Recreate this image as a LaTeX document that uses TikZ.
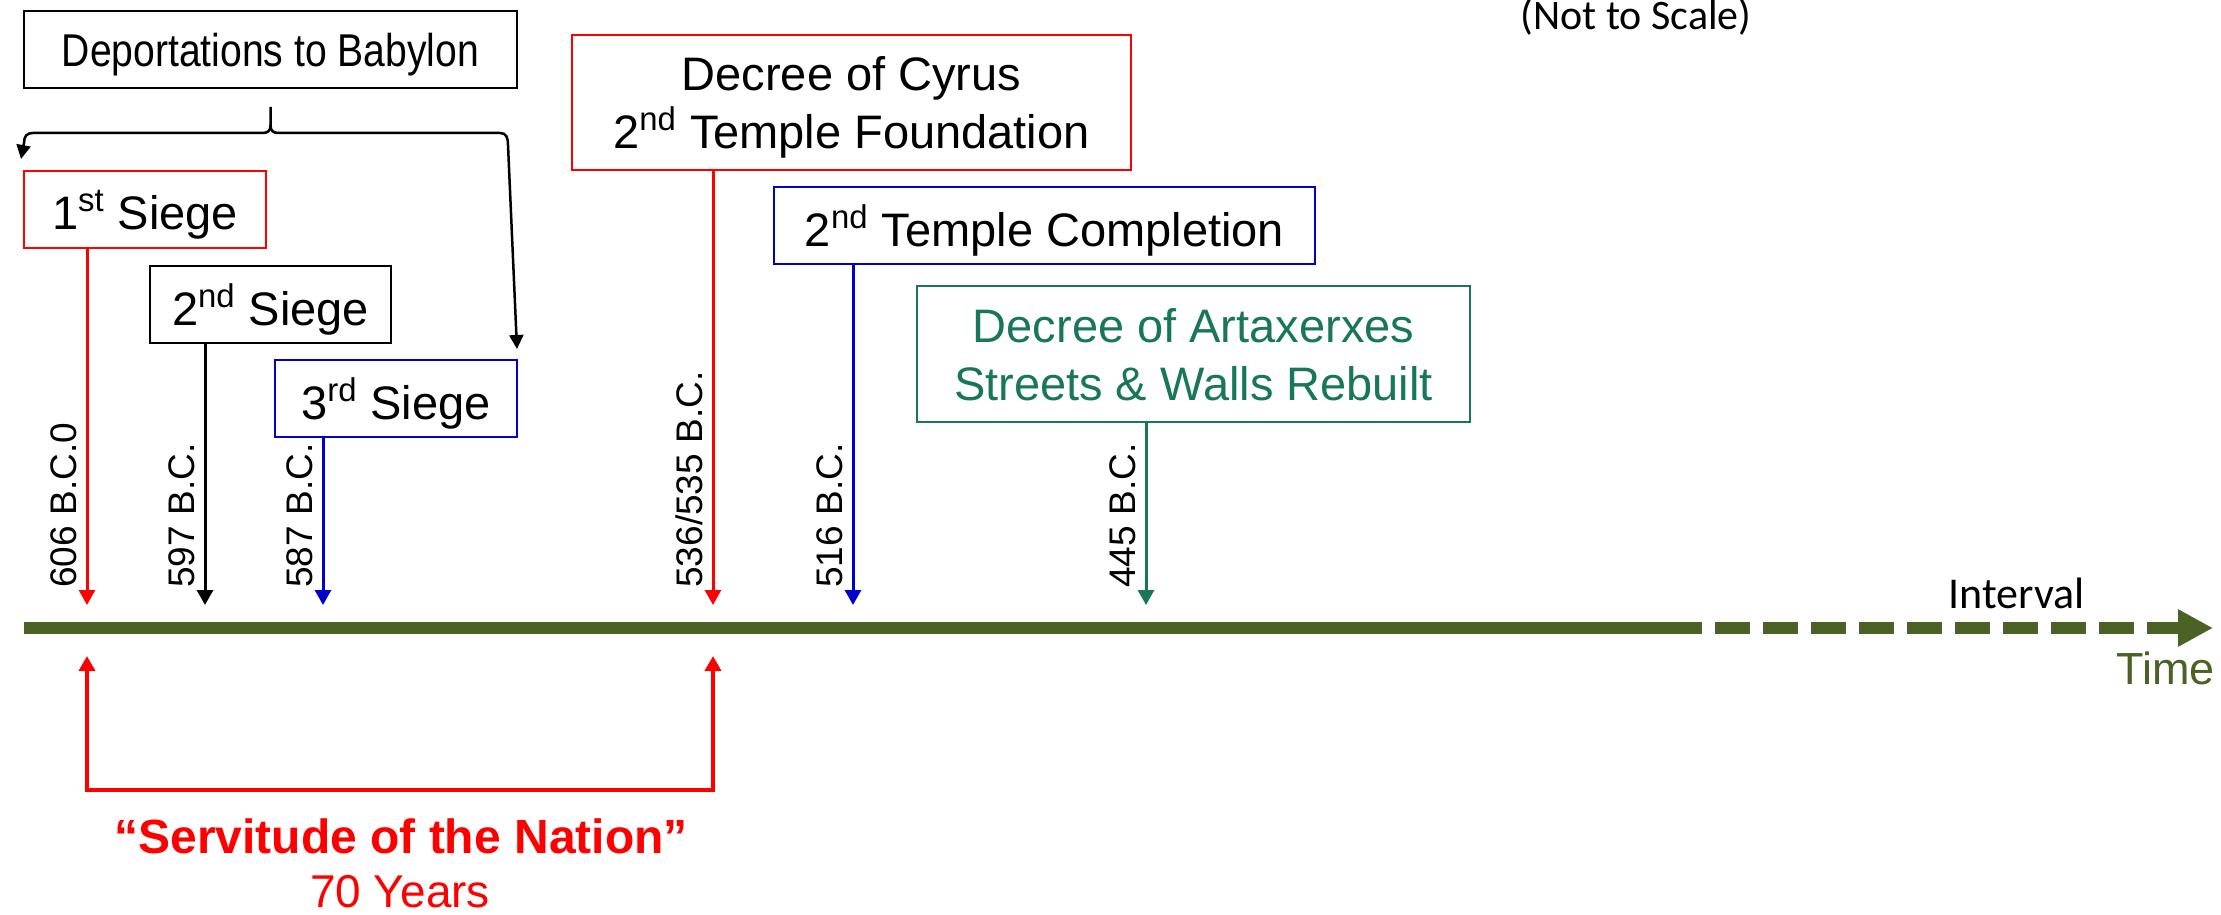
\documentclass[tikz,border=0pt]{standalone}
\usepackage{fontspec}
\setmainfont{Liberation Sans}
\newfontfamily\narrowfont{Liberation Sans}[FakeStretch=0.85]
\newfontfamily\calibrifont{Carlito}
\usetikzlibrary{arrows.meta,calc}

\definecolor{timeolive}{RGB}{74,98,36}
\definecolor{artgreen}{RGB}{24,119,90}
\definecolor{siegeblue}{RGB}{0,0,205}

\tikzset{
  event/.style={draw, line width=1pt, inner sep=0pt, align=center, text depth=0pt,
    font=\fontsize{23.5}{29}\selectfont},
  datearrow/.style={line width=1.5pt, -{Triangle[length=7.5pt,width=8pt]}},
  datelabel/.style={rotate=90, anchor=base west, inner sep=0pt,
    font=\fontsize{18.5}{22}\selectfont},
  bracearrow/.style={line width=1.25pt, -{Triangle[length=7pt,width=7pt]}},
}

\begin{document}
\begin{tikzpicture}[x=0.5pt,y=0.5pt,yscale=-1,xscale=1]
    \useasboundingbox (0,0) rectangle (2221,915);

    % event boxes
    \node[event, minimum width=246.5pt, minimum height=38.5pt,
      font=\narrowfont\fontsize{23}{28}\selectfont] (dep) at (270.5,49.5) {Deportations to Babylon};
    \node[event, draw=red, minimum width=121pt, minimum height=38.5pt] (s1) at (145,209.5) {1\textsuperscript{st} Siege};
    \node[event, minimum width=120.5pt, minimum height=38.5pt] (s2) at (270.5,304.5) {2\textsuperscript{nd} Siege};
    \node[event, draw=siegeblue, minimum width=121pt, minimum height=38.5pt] (s3) at (396,398.5) {3\textsuperscript{rd} Siege};
    \node[event, draw=red, minimum width=279.5pt, minimum height=67.5pt] (cyrus) at (851.5,102.5) {Decree of Cyrus\\2\textsuperscript{nd} Temple Foundation};
    \node[event, draw=siegeblue, minimum width=270.5pt, minimum height=38.5pt] (compl) at (1044.5,225.5) {2\textsuperscript{nd} Temple Completion};
    \node[event, draw=artgreen, text=artgreen, minimum width=276.5pt, minimum height=68pt] (artax) at (1193.5,354) {Decree of Artaxerxes\\Streets \& Walls Rebuilt};

    % brace from the deportations box
    \coordinate (bt) at ($(dep.south)+(0,18)$);
    \coordinate (bl) at ($(s1.north west)+(-2,-11)$);
    \coordinate (br) at ($(s3.north east)+(-1,-10)$);
    \draw[bracearrow] (bt) -- (270.5,125) .. controls (270.5,131) and (268,133) .. (262,133) -- (33,133) .. controls (27,133) and (24,136) .. (24,143) -- (bl);
    \draw[bracearrow] (270.5,125) .. controls (270.5,131) and (273,133) .. (279,133) -- (500,133) .. controls (506,133) and (508,137) .. (508,145) -- (br);

    % arrow tips on the time line
    \coordinate (t606) at (87,605);
    \coordinate (t597) at (205,605);
    \coordinate (t587) at (323,605);
    \coordinate (t536) at (713,605);
    \coordinate (t516) at (853,605);
    \coordinate (t445) at (1146,605);

    \draw[datearrow, red] (s1.south -| t606) -- (t606);
    \draw[datearrow] (s2.south -| t597) -- (t597);
    \draw[datearrow, siegeblue] (s3.south -| t587) -- (t587);
    \draw[datearrow, red] (cyrus.south -| t536) -- (t536);
    \draw[datearrow, siegeblue] (compl.south -| t516) -- (t516);
    \draw[datearrow, artgreen] (artax.south -| t445) -- (t445);

    % dates
    \node[datelabel] (d606) at (76,588) {606 B.C.0};
    \node[datelabel] (d597) at (194,588) {597 B.C.};
    \node[datelabel] (d587) at (312,588) {587 B.C.};
    \node[datelabel] (d536) at (702,588) {536/535 B.C.};
    \node[datelabel] (d516) at (842,588) {516 B.C.};
    \node[datelabel] (d445) at (1135,588) {445 B.C.};

    % time line
    \coordinate (tl0) at (24,628);
    \coordinate (tl1) at (1667,628);
    \coordinate (tl2) at (2213,628);
    \draw[timeolive, line width=6pt] (tl0) -- (tl1);
    \draw[timeolive, line width=6pt, dash pattern=on 17.5pt off 6.5pt,
      -{Triangle[length=17.5pt,width=17.5pt]}] (tl1) -- (tl2);
    \node[font=\calibrifont\fontsize{22}{26}\selectfont, anchor=base west, inner sep=0pt] (interval) at (1948,608) {Interval};
    \node[font=\fontsize{22.5}{27}\selectfont, text=timeolive, anchor=base east, inner sep=0pt] (time) at (2215,684) {Time};
    \node[font=\calibrifont\fontsize{21}{25}\selectfont, anchor=base east, inner sep=0pt] (scale) at (1752,30) {(Not to Scale)};

    % seventy years
    \coordinate (u606) at (87,656);
    \coordinate (u536) at (713,656);
    \draw[red, line width=1.75pt, {Triangle[length=7.5pt,width=8pt]}-{Triangle[length=7.5pt,width=8pt]}] (u606) -- ++(0,134) -| (u536);
    \node[text=red, font=\bfseries\fontsize{24}{28}\selectfont, anchor=base, inner sep=0pt] (serv) at (401,853) {“Servitude of the Nation”};
    \node[text=red, font=\fontsize{23}{28}\selectfont, anchor=base, inner sep=0pt] (years) at (400,907) {70 Years};

\end{tikzpicture}
\end{document}
